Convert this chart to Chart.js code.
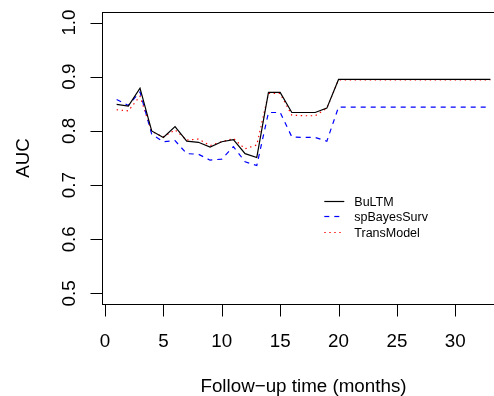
<!DOCTYPE html>
<html>
<head>
<meta charset="utf-8">
<script src="https://cdn.jsdelivr.net/npm/chart.js@4"></script>
<style>
  html, body { margin: 0; padding: 0; background: #fff; overflow: hidden; }
  canvas { display: block; }
</style>
</head>
<body>
<canvas id="aucChart" width="512" height="396"></canvas>
<script>
// follow-up months
const months = [1, 2, 3, 4, 5, 6, 7, 8, 9, 10, 11, 12, 13, 14, 15, 16, 17, 18, 19, 20,
                21, 22, 23, 24, 25, 26, 27, 28, 29, 30, 31, 32, 33];

// AUC per model
const bultm = [0.849, 0.846, 0.879, 0.800, 0.788, 0.808, 0.781, 0.779, 0.770, 0.780,
               0.784, 0.758, 0.751, 0.871, 0.871, 0.834, 0.834, 0.834, 0.842, 0.895,
               0.895, 0.895, 0.895, 0.895, 0.895, 0.895, 0.895, 0.895, 0.895, 0.895,
               0.895, 0.895, 0.895];
const spBayes = [0.858, 0.847, 0.872, 0.794, 0.780, 0.782, 0.758, 0.757, 0.746, 0.748,
                 0.771, 0.743, 0.736, 0.834, 0.834, 0.789, 0.788, 0.788, 0.781, 0.844,
                 0.844, 0.844, 0.844, 0.844, 0.844, 0.844, 0.844, 0.844, 0.844, 0.844,
                 0.844, 0.844, 0.844];
const transModel = [0.839, 0.837, 0.864, 0.799, 0.789, 0.802, 0.783, 0.785, 0.773, 0.780,
                    0.786, 0.767, 0.774, 0.869, 0.869, 0.829, 0.828, 0.828, 0.842, 0.894,
                    0.894, 0.894, 0.894, 0.894, 0.894, 0.894, 0.894, 0.894, 0.894, 0.894,
                    0.894, 0.894, 0.894];

const xTicks = [0, 5, 10, 15, 20, 25, 30];
const yTicks = [0.5, 0.6, 0.7, 0.8, 0.9, 1.0];
const seriesNames = ['BuLTM', 'spBayesSurv', 'TransModel'];
const xTitle = 'Follow\u2212up time (months)';
const yTitle = 'AUC';

const FONT = '"Liberation Sans", Arial, sans-serif';
const dashBlue = [5, 5];
const dotRed = [1.4, 3.6];

function pts(vals) {
    return months.map((m, i) => ({ x: m, y: vals[i] }));
}

// R style box, axes, titles and legend
const rAxes = {
    id: 'rAxes',
    afterDraw(chart) {
        const ctx = chart.ctx;
        const a = chart.chartArea;
        const xs = chart.scales.x, ys = chart.scales.y;
        const L = Math.round(a.left) + 0.5, T = Math.round(a.top) + 0.5;
        const R = Math.round(a.right) + 0.5, B = Math.round(a.bottom) + 0.5;
        ctx.save();
        ctx.strokeStyle = '#000';
        ctx.fillStyle = '#000';
        ctx.lineWidth = 1;
        ctx.setLineDash([]);
        ctx.strokeRect(L, T, R - L, B - T);

        // y ticks
        ctx.font = '18.8px ' + FONT;
        ctx.textAlign = 'center';
        ctx.textBaseline = 'alphabetic';
        yTicks.forEach(v => {
            const py = Math.round(ys.getPixelForValue(v)) + 0.5;
            ctx.beginPath();
            ctx.moveTo(L - 12, py);
            ctx.lineTo(L, py);
            ctx.stroke();
            ctx.save();
            ctx.translate(74.8, ys.getPixelForValue(v));
            ctx.rotate(-Math.PI / 2);
            ctx.fillText(v.toFixed(1), 0, 0);
            ctx.restore();
        });

        // x ticks
        xTicks.forEach(v => {
            const px = Math.round(xs.getPixelForValue(v)) + 0.5;
            ctx.beginPath();
            ctx.moveTo(px, B);
            ctx.lineTo(px, B + 12);
            ctx.stroke();
            ctx.fillText(String(v), xs.getPixelForValue(v), 346.7);
        });

        // titles
        ctx.fillText(xTitle, (a.left + a.right) / 2, 391.8);
        ctx.save();
        ctx.translate(28.5, (a.top + a.bottom) / 2);
        ctx.rotate(-Math.PI / 2);
        ctx.fillText(yTitle, 0, 0);
        ctx.restore();

        // legend
        ctx.font = '12.5px ' + FONT;
        ctx.textAlign = 'left';
        const ds = chart.data.datasets;
        seriesNames.forEach((name, i) => {
            const y = 200.7 + i * 15.5;
            ctx.save();
            ctx.strokeStyle = ds[i].borderColor;
            ctx.lineWidth = ds[i].borderWidth;
            ctx.setLineDash(ds[i].borderDash || []);
            ctx.beginPath();
            ctx.moveTo(324.3, Math.round(y) + 0.5);
            ctx.lineTo(344.3, Math.round(y) + 0.5);
            ctx.stroke();
            ctx.restore();
            ctx.fillText(name, 354.3, y + 5);
        });
        ctx.restore();
    }
};

new Chart(document.getElementById('aucChart'), {
    type: 'line',
    data: {
        datasets: [
            { label: seriesNames[0], data: pts(bultm), borderColor: '#000000', borderWidth: 1.2 },
            { label: seriesNames[1], data: pts(spBayes), borderColor: '#0000ff', borderWidth: 1.2, borderDash: dashBlue },
            { label: seriesNames[2], data: pts(transModel), borderColor: '#ff0000', borderWidth: 1.2, borderDash: dotRed }
        ]
    },
    options: {
        responsive: false,
        animation: false,
        devicePixelRatio: 1,
        layout: { padding: { left: 101.7, top: 11.7, right: 6.7, bottom: 91.7 } },
        elements: { point: { radius: 0 }, line: { tension: 0, fill: false } },
        scales: {
            x: { type: 'linear', display: false, min: -0.28, max: 34.28 },
            y: { type: 'linear', display: false, min: 0.48, max: 1.02 }
        },
        plugins: { legend: { display: false }, tooltip: { enabled: false } }
    },
    plugins: [rAxes]
});
</script>
</body>
</html>
